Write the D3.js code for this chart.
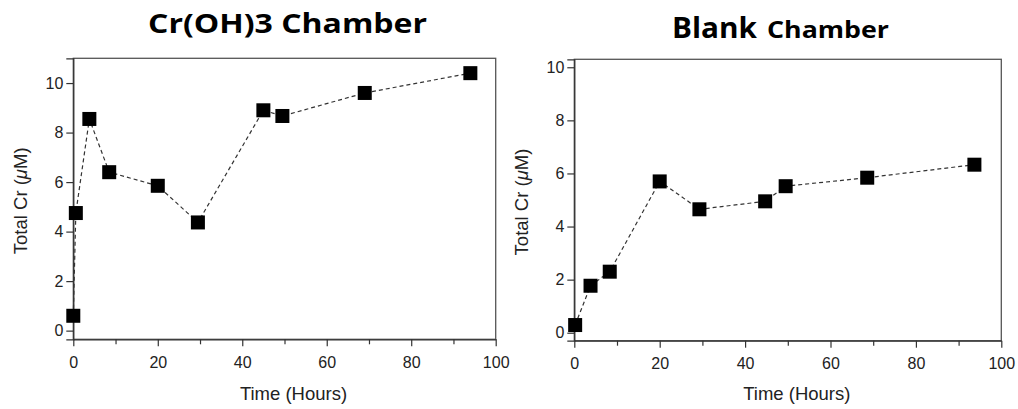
<!DOCTYPE html>
<html>
<head>
<meta charset="utf-8">
<script src="https://cdn.jsdelivr.net/npm/d3@7"></script>
<style>
  body { margin: 0; background: #fff; }
  svg { display: block; }
</style>
</head>
<body>
<div id="chart"></div>
<script>
// Cr(OH)3 chamber
var crTime  = [0, 0.6, 3.8, 8.5, 20, 29.5, 45, 49.5, 69, 94];
var crTotal = [0.6, 4.75, 8.55, 6.4, 5.85, 4.37, 8.9, 8.67, 9.6, 10.4];
// blank chamber
var blankTime  = [0.2, 3.8, 8.3, 20, 29.3, 44.7, 49.5, 68.6, 93.7];
var blankTotal = [0.29, 1.77, 2.3, 5.7, 4.65, 4.95, 5.52, 5.84, 6.33];

var xTicks = [0, 10, 20, 30, 40, 50, 60, 70, 80, 90, 100];
var yTicks = [0, 2, 4, 6, 8, 10];

var width = 1018, height = 409;
var sans = "Liberation Sans, Arial, sans-serif";

var svg = d3.select("#chart").append("svg")
  .attr("width", width)
  .attr("height", height);

var panels = [
  { time: crTime, val: crTotal, left: 73.3, right: 495.7, top: 58.3, bottom: 339.3, ymin: -0.35, ymax: 11 },
  { time: blankTime, val: blankTotal, left: 574.3, right: 1001.3, top: 59.3, bottom: 340.7, ymin: -0.3, ymax: 10.3 }
];

panels.forEach(function (p) {
  var x = d3.scaleLinear().domain([0, 100]).range([p.left, p.right]);
  var y = d3.scaleLinear().domain([p.ymin, p.ymax]).range([p.bottom, p.top]);
  var g = svg.append("g");

  // frame
  g.append("rect")
    .attr("x", p.left).attr("y", p.top)
    .attr("width", p.right - p.left).attr("height", p.bottom - p.top)
    .attr("fill", "none").attr("stroke", "#555").attr("stroke-width", 1.3);

  var xAxis = d3.axisBottom(x).tickValues(xTicks).tickSizeOuter(0)
    .tickFormat(function (d) { return d % 20 === 0 ? d : ""; });
  var gx = g.append("g").attr("transform", "translate(0," + p.bottom + ")").call(xAxis);
  gx.selectAll(".tick line").attr("y2", function (d) { return d % 20 === 0 ? 7 : 5; });
  gx.selectAll(".tick text").attr("y", 17);

  var yAxis = d3.axisLeft(y).tickValues(yTicks).tickSizeOuter(0).tickSize(7).tickPadding(3);
  g.append("g").attr("transform", "translate(" + p.left + ",0)").call(yAxis);

  g.selectAll(".domain").attr("stroke", "#333").attr("stroke-width", 1.3);
  g.selectAll(".tick line").attr("stroke", "#333").attr("stroke-width", 1.2);
  g.selectAll(".tick text")
    .attr("font-family", sans)
    .attr("font-size", 16)
    .attr("fill", "#222");

  var pts = p.time.map(function (t, i) { return [t, p.val[i]]; });
  var line = d3.line().x(function (d) { return x(d[0]); }).y(function (d) { return y(d[1]); });

  g.append("path")
    .attr("d", line(pts))
    .attr("fill", "none")
    .attr("stroke", "#333")
    .attr("stroke-width", 1.2)
    .attr("stroke-dasharray", "4,3");

  g.selectAll("rect.pt")
    .data(pts)
    .enter()
    .append("rect")
    .attr("class", "pt")
    .attr("x", function (d) { return x(d[0]) - 7; })
    .attr("y", function (d) { return y(d[1]) - 7; })
    .attr("width", 14)
    .attr("height", 14)
    .attr("fill", "#000");

  // axis labels
  var cx = (p.left + p.right) / 2 + 9;
  g.append("text")
    .attr("x", cx).attr("y", 400)
    .attr("text-anchor", "middle")
    .attr("font-family", sans)
    .attr("font-size", 18.5)
    .attr("fill", "#222")
    .text("Time (Hours)");

  var cy = (p.top + p.bottom) / 2 + 2;
  var yl = g.append("text")
    .attr("transform", "translate(" + (p.left - 46.5) + "," + cy + ") rotate(-90)")
    .attr("text-anchor", "middle")
    .attr("font-family", sans)
    .attr("font-size", 18.5)
    .attr("fill", "#222");
  yl.append("tspan").text("Total Cr (");
  yl.append("tspan").attr("font-style", "italic").text("\u03bc");
  yl.append("tspan").text("M)");
});

// titles
var titleFont = "'Open Sans', Lato, sans-serif";
svg.append("text")
  .attr("x", 148).attr("y", 33)
  .attr("font-family", titleFont)
  .attr("font-weight", 700)
  .attr("font-size", 26)
  .attr("textLength", 279)
  .attr("lengthAdjust", "spacingAndGlyphs")
  .text("Cr(OH)3 Chamber");

svg.append("text")
  .attr("x", 672).attr("y", 37.5)
  .attr("font-family", titleFont)
  .attr("font-weight", 700)
  .attr("font-size", 29)
  .attr("textLength", 85)
  .attr("lengthAdjust", "spacingAndGlyphs")
  .text("Blank");

svg.append("text")
  .attr("x", 767).attr("y", 37.5)
  .attr("font-family", titleFont)
  .attr("font-weight", 700)
  .attr("font-size", 24)
  .attr("textLength", 122)
  .attr("lengthAdjust", "spacingAndGlyphs")
  .text("Chamber");
</script>
</body>
</html>
